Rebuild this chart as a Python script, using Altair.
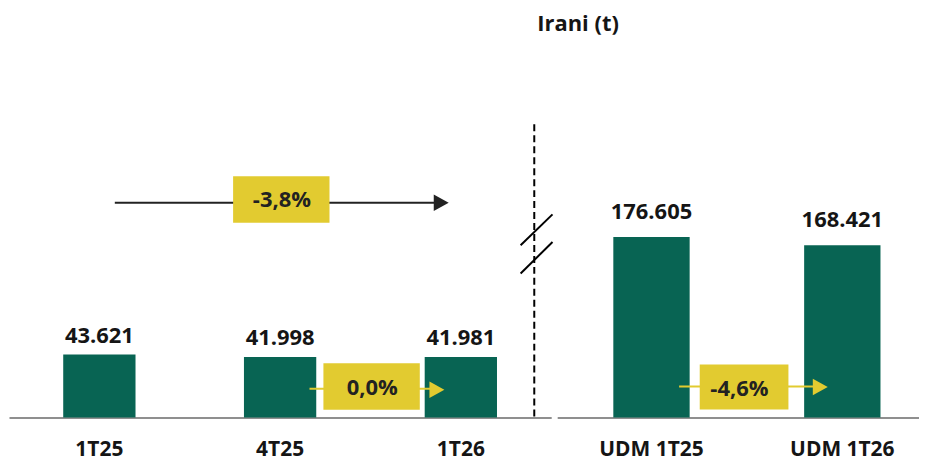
import altair as alt
import pandas as pd

# ---- data ----
left_cats = ["1T25", "4T25", "1T26"]
left_vals = [43621, 41998, 41981]
left_labels = ["43.621", "41.998", "41.981"]
right_cats = ["UDM 1T25", "UDM 1T26"]
right_vals = [176605, 168421]
right_labels = ["176.605", "168.421"]
pct_labels = ["-3,8%", "0,0%", "-4,6%"]
title_text = "Irani (t)"

GREEN = "#086453"
YELLOW = "#E2CB30"
DARK = "#151515"
PCT = "#222222"
FONT = "Open Sans"
H = 357
WL = 544
WR = 363

TRI = "M-1,-1.1L1,0L-1,1.1Z"


def box_shape(ratio):
    return f"M-1,-{ratio}L1,-{ratio}L1,{ratio}L-1,{ratio}Z"


def xaxis():
    return alt.Axis(title=None, labelAngle=0, labelFont=FONT, labelFontSize=21,
                    labelFontWeight="bold", labelColor=DARK, labelPadding=21,
                    ticks=False, domainColor="#8f8f8f", domainWidth=2, grid=False)


def panel(df, cats, scale, ydom, dy):
    base = alt.Chart(df).encode(
        x=alt.X("cat:N", sort=cats, scale=scale, axis=xaxis()),
        y=alt.Y("val:Q", scale=alt.Scale(domain=[0, ydom]), axis=None),
    )
    bars = base.mark_bar(color=GREEN)
    vals = base.mark_text(font=FONT, fontSize=22, fontWeight="bold", color=DARK,
                          baseline="alphabetic", dy=dy).encode(text="lab:N")
    return bars, vals


def hline(c1, o1, c2, o2, ypix, color):
    return alt.Chart().mark_rule(color=color, strokeWidth=2, xOffset=o1, x2Offset=o2).encode(
        x=alt.datum(c1), x2=alt.datum(c2), y=alt.value(ypix))


def head(c, o, ypix, color):
    return alt.Chart().mark_point(shape=TRI, size=225, filled=True, opacity=1, color=color,
                                  strokeWidth=0, xOffset=o).encode(
        x=alt.datum(c), y=alt.value(ypix))


def box(c, o, ypix, w, h):
    return alt.Chart().mark_point(shape=box_shape(round(h / w, 3)), size=w * w, filled=True,
                                  opacity=1, color=YELLOW, strokeWidth=0, xOffset=o).encode(
        x=alt.datum(c), y=alt.value(ypix))


def ptext(c, o, ypix, txt):
    return alt.Chart().mark_text(text=txt, font=FONT, fontSize=22, fontWeight="bold",
                                 color=PCT, baseline="middle", dx=o).encode(
        x=alt.datum(c), y=alt.value(ypix))


left_df = pd.DataFrame({"cat": left_cats, "val": left_vals, "lab": left_labels})
right_df = pd.DataFrame({"cat": right_cats, "val": right_vals, "lab": right_labels})

lscale = alt.Scale(domain=left_cats, paddingInner=0.6, paddingOuter=0.3)
rscale = alt.Scale(domain=right_cats, paddingInner=0.6, paddingOuter=0.248, align=0.593)

lbars, lvals = panel(left_df, left_cats, lscale, 247000, -12)
rbars, rvals = panel(right_df, right_cats, rscale, 348300, -18)

dashed = alt.Chart().mark_rule(color="#000000", strokeWidth=2, strokeDash=[7, 4]).encode(
    x=alt.value(527), y=alt.value(63), y2=alt.value(H))
brk1 = alt.Chart().mark_rule(color="#000000", strokeWidth=2).encode(
    x=alt.value(513.3), y=alt.value(184.3), x2=alt.value(545.3), y2=alt.value(153.3))
brk2 = alt.Chart().mark_rule(color="#000000", strokeWidth=2).encode(
    x=alt.value(513.3), y=alt.value(212.7), x2=alt.value(545.3), y2=alt.value(181))

left = alt.layer(
    lbars, lvals,
    hline("4T25", 29.5, "1T26", -24, 328.3, YELLOW),
    head("1T26", -24, 329.2, YELLOW),
    box("4T25", 91.8, 326, 96.7, 46.7),
    ptext("4T25", 92.5, 327.3, pct_labels[1]),
    hline("1T25", 15.5, "1T26", -22, 141.7, "#222222"),
    head("1T26", -19.7, 141.7, "#222222"),
    box("4T25", 1.2, 138.4, 96.7, 46.7),
    ptext("4T25", 1.8, 139.3, pct_labels[0]),
    dashed, brk1, brk2,
).properties(width=WL, height=H)

right = alt.layer(
    rbars, rvals,
    hline("UDM 1T25", 27.7, "UDM 1T26", -22.1, 326, YELLOW),
    head("UDM 1T26", -22.1, 326.5, YELLOW),
    box("UDM 1T25", 92.9, 326.5, 89, 45),
    ptext("UDM 1T25", 88.2, 328.3, pct_labels[2]),
).properties(width=WR, height=H)

chart = alt.hconcat(left, right, spacing=3).properties(
    title=alt.TitleParams(title_text, anchor="start", dx=530, font=FONT, fontSize=22,
                          fontWeight="bold", color=DARK, offset=26),
    padding={"left": 1, "top": 4, "right": 0, "bottom": 0},
).configure(background="white").configure_view(strokeWidth=0, stroke="transparent")

chart.save("out.html", embed_options={"renderer": "svg", "actions": False})
